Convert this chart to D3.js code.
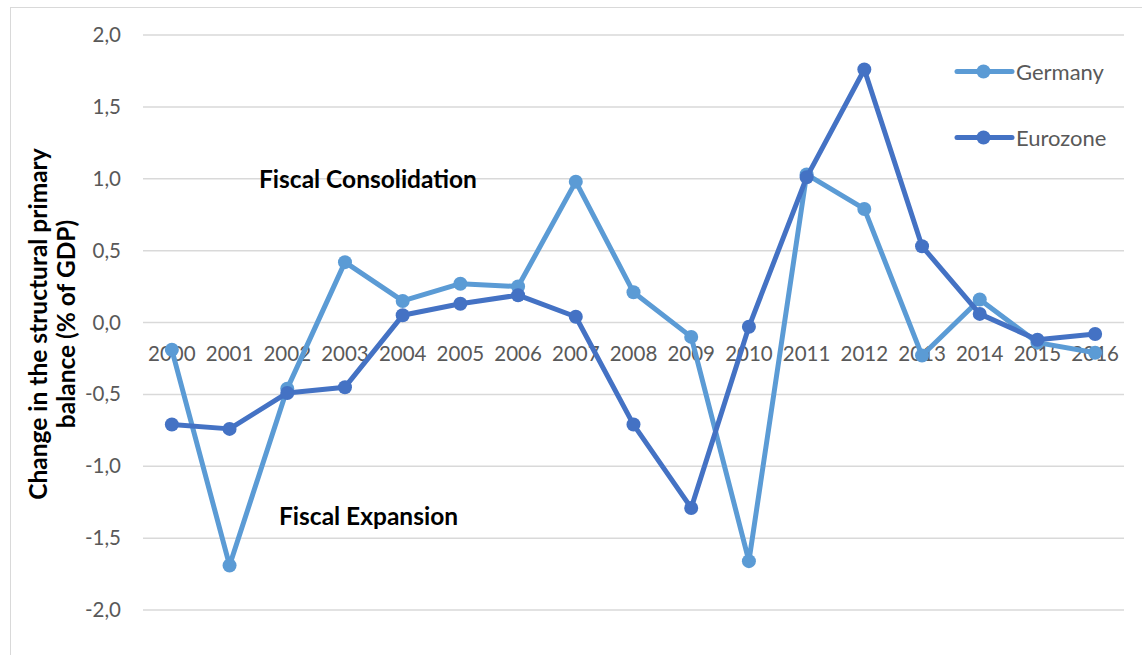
<!DOCTYPE html>
<html>
<head>
<meta charset="utf-8">
<script src="https://cdn.jsdelivr.net/npm/d3@7"></script>
<style>
  html, body { margin: 0; padding: 0; background: #fff; }
  svg { display: block; font-family: Lato, "Open Sans", sans-serif; }
</style>
</head>
<body>
<svg id="chart" width="1142" height="655"></svg>
<script>
// Years on the category axis
const years = ["2000","2001","2002","2003","2004","2005","2006","2007","2008",
               "2009","2010","2011","2012","2013","2014","2015","2016"];
// Change in structural primary balance, % of GDP
const germany  = [-0.19, -1.69, -0.46, 0.42, 0.15, 0.27, 0.25, 0.98, 0.21,
                  -0.10, -1.66, 1.03, 0.79, -0.23, 0.16, -0.14, -0.21];
const eurozone = [-0.71, -0.74, -0.49, -0.45, 0.05, 0.13, 0.19, 0.04, -0.71,
                  -1.29, -0.03, 1.01, 1.76, 0.53, 0.06, -0.12, -0.08];
const yTicks = [-2, -1.5, -1, -0.5, 0, 0.5, 1, 1.5, 2];
const seriesNames = ["Germany", "Eurozone"];
const seriesColors = ["#5B9BD5", "#4472C4"];

const svg = d3.select("#chart");
const plotLeft = 143, plotRight = 1124, plotTop = 35, plotBottom = 610;

// chart frame
svg.append("rect")
  .attr("x", 10.5).attr("y", 7.5).attr("width", 1140).attr("height", 660)
  .attr("fill", "none").attr("stroke", "#d9d9d9").attr("stroke-width", 1);

const x = d3.scaleBand().domain(years).range([plotLeft, plotRight]);
const y = d3.scaleLinear().domain([-2, 2]).range([plotBottom, plotTop]);
const fmt = v => d3.format(".1f")(v).replace(".", ",").replace("−", "-");

// horizontal gridlines
svg.append("g").selectAll("line").data(yTicks).join("line")
  .attr("x1", plotLeft).attr("x2", plotRight)
  .attr("y1", d => y(d)).attr("y2", d => y(d))
  .attr("stroke", "#d9d9d9").attr("stroke-width", 1.5);

// value axis labels
const yAxis = d3.axisLeft(y).tickValues(yTicks).tickFormat(fmt).tickSize(0).tickPadding(0);
const gy = svg.append("g").attr("transform", `translate(${121},0)`).call(yAxis);
gy.select(".domain").remove();
gy.selectAll("text").attr("font-size", 20.5).attr("fill", "#595959")
  .attr("font-family", "Lato, sans-serif");

// category axis labels, sitting just below the zero line
const xAxis = d3.axisBottom(x).tickSize(0).tickPadding(0);
const gx = svg.append("g").attr("transform", `translate(0,${y(0) + 38.5})`).call(xAxis);
gx.select(".domain").remove();
gx.selectAll("text").attr("font-size", 20.5).attr("fill", "#595959")
  .attr("font-family", "Lato, sans-serif").attr("dy", "0");

// value axis title
const title = svg.append("text")
  .attr("transform", `translate(46.5,${324}) rotate(-90)`)
  .attr("text-anchor", "middle").attr("font-size", 24.5).attr("font-weight", "bold")
  .attr("fill", "#000");
title.append("tspan").attr("x", 0).attr("dy", 0).text("Change in the structural primary");
title.append("tspan").attr("x", 0).attr("dy", 28.5).text("balance (% of GDP)");

// series lines and markers
const line = d3.line()
  .x((d, i) => x(years[i]) + x.bandwidth() / 2)
  .y(d => y(d));
[germany, eurozone].forEach((vals, k) => {
  const g = svg.append("g");
  g.append("path").datum(vals)
    .attr("d", line).attr("fill", "none")
    .attr("stroke", seriesColors[k]).attr("stroke-width", 5)
    .attr("stroke-linejoin", "round");
  g.selectAll("circle").data(vals).join("circle")
    .attr("cx", (d, i) => x(years[i]) + x.bandwidth() / 2)
    .attr("cy", d => y(d)).attr("r", 7)
    .attr("fill", seriesColors[k]);
});

// annotations
svg.append("text").attr("x", 259).attr("y", 188)
  .attr("font-size", 24.5).attr("font-weight", "bold").attr("fill", "#000")
  .text("Fiscal Consolidation");
svg.append("text").attr("x", 279).attr("y", 525)
  .attr("font-size", 24.5).attr("font-weight", "bold").attr("fill", "#000")
  .text("Fiscal Expansion");

// legend
const legendY = [71.5, 137.5];
seriesNames.forEach((name, k) => {
  const lg = svg.append("g").attr("transform", `translate(957,${legendY[k]})`);
  lg.append("line").attr("x1", 0).attr("x2", 55).attr("y1", 0).attr("y2", 0)
    .attr("stroke", seriesColors[k]).attr("stroke-width", 5).attr("stroke-linecap", "round");
  lg.append("circle").attr("cx", 26.5).attr("cy", 0).attr("r", 7).attr("fill", seriesColors[k]);
  lg.append("text").attr("x", 59).attr("y", 8).attr("font-size", 22)
    .attr("fill", "#595959").text(name);
});
</script>
</body>
</html>
